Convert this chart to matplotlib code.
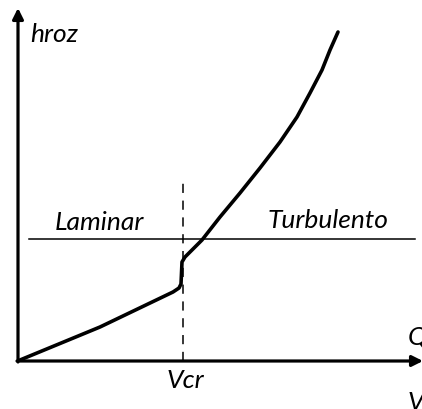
import matplotlib
matplotlib.use("Agg")
import matplotlib.pyplot as plt

# curve h_roz vs V (origin at axes crossing; units)
v_vals = [2, 82, 155, 161, 163, 164, 167, 184, 202, 222, 242, 262, 279, 292, 304, 312, 320]
h_vals = [1, 34, 69, 73, 77, 99, 104, 121, 144, 168, 193, 219, 244, 268, 291, 311, 329]
v_cr = 165
h_sep = 122
labels = {"y": "hroz", "x1": "Q", "x2": "V", "cr": "Vcr", "lam": "Laminar", "tur": "Turbulento"}

fig = plt.figure(figsize=(4.22, 4.09), dpi=100)
ax = fig.add_axes([0, 0, 1, 1])
ax.set_xlim(-18, 404)
ax.set_ylim(-48, 361)
ax.axis("off")

font = dict(family="Lato", style="italic", fontsize=19, color="black")

# axes with arrows
ax.annotate("", xy=(0, 353), xytext=(0, -1), annotation_clip=False,
            arrowprops=dict(arrowstyle="-|>", lw=2.3, color="black", mutation_scale=16, shrinkA=0, shrinkB=0))
ax.annotate("", xy=(405, 0), xytext=(-1, 0), annotation_clip=False,
            arrowprops=dict(arrowstyle="-|>", lw=2.3, color="black", mutation_scale=16, shrinkA=0, shrinkB=0))

# separation lines
ax.plot([11, 397], [h_sep, h_sep], color="black", lw=1.1)
ax.plot([v_cr, v_cr], [0, 180], color="black", lw=1.1, dashes=(6, 5))

# curve
ax.plot(v_vals, h_vals, color="black", lw=2.6, solid_joinstyle="round", solid_capstyle="round")

# texts
ax.text(12, 327, labels["y"], ha="left", va="center", **font)
ax.text(37, 139, labels["lam"], ha="left", va="center", **font)
ax.text(250, 141, labels["tur"], ha="left", va="center", **font)
ax.text(v_cr + 2, -19, labels["cr"], ha="center", va="center", **font)
ax.text(390, 24, labels["x1"], ha="left", va="center", **font)
ax.text(390, -41, labels["x2"], ha="left", va="center", **font)

fig.savefig("out.png", dpi=100, facecolor="white")
